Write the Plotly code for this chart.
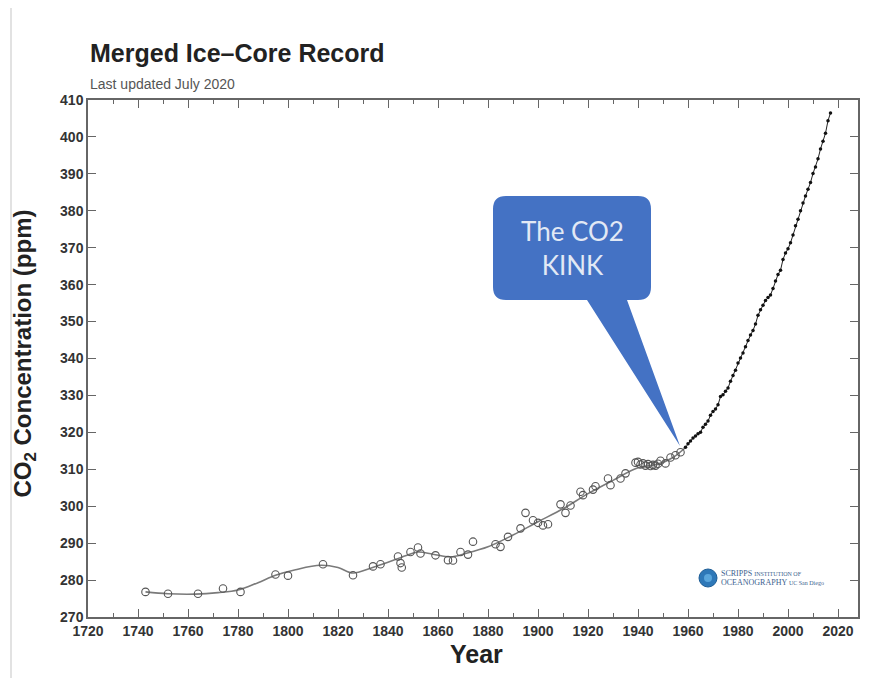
import plotly.graph_objects as go

# ---------------- data ----------------
ice_years = [1743, 1752, 1764, 1774, 1781, 1795, 1800, 1814, 1826, 1834, 1837,
             1844, 1845, 1845.5, 1849, 1852, 1853, 1859, 1864, 1866, 1869, 1872, 1874,
             1883, 1885, 1888, 1893, 1895, 1898, 1900, 1902, 1904, 1909, 1911, 1913,
             1917, 1918, 1922, 1923, 1928, 1929, 1933, 1935, 1939, 1940, 1941, 1942,
             1943, 1944, 1945, 1946, 1947, 1948, 1949, 1951, 1953, 1955, 1957]
ice_co2 = [276.8, 276.3, 276.3, 277.7, 276.8, 281.5, 281.2, 284.3, 281.3, 283.7, 284.3,
           286.4, 284.6, 283.4, 287.6, 288.8, 287.2, 286.7, 285.4, 285.3, 287.6, 286.9, 290.4,
           289.7, 289.0, 291.7, 294.0, 298.2, 296.2, 295.5, 294.8, 295.1, 300.5, 298.2, 300.2,
           303.9, 303.0, 304.5, 305.4, 307.5, 305.7, 307.5, 308.9, 311.8, 312.0, 311.3, 311.6,
           311.0, 311.4, 310.9, 311.2, 311.0, 311.5, 312.3, 311.6, 313.2, 313.8, 314.6]

spline_years = [1743, 1752, 1763, 1772, 1780, 1788, 1795, 1803, 1813, 1820, 1826,
                1833, 1840, 1847, 1852, 1858, 1865, 1871, 1880, 1890, 1900, 1910,
                1920, 1930, 1940, 1948, 1954, 1959]
spline_co2 = [276.8, 276.3, 276.2, 276.6, 277.3, 279.3, 281.3, 282.8, 284.0, 283.4, 281.9,
              283.2, 284.8, 286.6, 287.6, 287.0, 286.3, 287.2, 289.0, 292.2, 295.8, 299.3,
              303.4, 307.0, 310.4, 311.4, 313.2, 315.9]

ml_years = list(range(1959, 2018))
ml_co2 = [315.97, 316.91, 317.64, 318.45, 318.99, 319.62, 320.04, 321.37, 322.18, 323.05,
          324.62, 325.68, 326.32, 327.46, 329.68, 330.19, 331.12, 332.03, 333.84, 335.41,
          336.84, 338.76, 340.12, 341.48, 343.15, 344.85, 346.35, 347.61, 349.31, 351.69,
          353.20, 354.45, 355.70, 356.54, 357.21, 358.96, 360.97, 362.74, 363.88, 366.84,
          368.54, 369.71, 371.32, 373.45, 375.98, 377.70, 379.98, 382.09, 384.02, 385.83,
          387.64, 390.10, 391.85, 394.06, 396.74, 398.81, 401.01, 404.41, 406.50]

title_text = "Merged Ice\u2013Core Record"
subtitle_text = "Last updated July 2020"
callout_text = "The CO2<br>KINK"

# ---------------- figure ----------------
fig = go.Figure()

fig.add_trace(go.Scatter(
    x=spline_years, y=spline_co2, mode="lines",
    line=dict(color="#7a7a7a", width=1.6, shape="spline", smoothing=1.0),
    hoverinfo="skip", showlegend=False))

fig.add_trace(go.Scatter(
    x=ice_years, y=ice_co2, mode="markers",
    marker=dict(symbol="circle-open", size=7.5, color="#555555", line=dict(width=1.1)),
    showlegend=False))

fig.add_trace(go.Scatter(
    x=ml_years, y=ml_co2, mode="lines+markers",
    line=dict(color="#222222", width=1),
    marker=dict(symbol="circle", size=3.5, color="#111111"),
    showlegend=False))

X0, X1 = 1720, 2028
Y0, Y1 = 270, 410
OFF = 8                      # page body margin
L, T = 88, 100               # plot top-left on the page
PR, PB = 858, 617            # plot right / bottom on the page
FW, FH = 872, 670            # figure size (fits the 888x686 window with body margin)
pw, ph = PR - L, PB - T
mL, mT = L - OFF, T - OFF
mR, mB = FW - (PR - OFF), FH - (PB - OFF)


def px2x(px):
    return X0 + (px - L) / pw * (X1 - X0)


def py2y(py):
    return Y1 - (py - T) / ph * (Y1 - Y0)


def P(px, py):
    return f"{px2x(px):.3f},{py2y(py):.3f}"


# callout bubble (rounded box + tail)
bx0, bx1, by0, by1 = 493, 651, 196, 300
r = 13
tl0, tl1 = 587, 627
tip = (680, 446)
path = (f"M {P(bx0 + r, by0)} L {P(bx1 - r, by0)} Q {P(bx1, by0)} {P(bx1, by0 + r)} "
        f"L {P(bx1, by1 - r)} Q {P(bx1, by1)} {P(bx1 - r, by1)} "
        f"L {P(tl1, by1)} L {P(tip[0], tip[1])} L {P(tl0, by1)} "
        f"L {P(bx0 + r, by1)} Q {P(bx0, by1)} {P(bx0, by1 - r)} "
        f"L {P(bx0, by0 + r)} Q {P(bx0, by0)} {P(bx0 + r, by0)} Z")
fig.add_shape(type="path", path=path, xref="x", yref="y",
              fillcolor="#4472C4", line=dict(color="#4472C4", width=0), layer="above")

fig.add_annotation(x=px2x((bx0 + bx1) / 2), y=py2y((by0 + by1) / 2), xref="x", yref="y",
                   text=callout_text, showarrow=False,
                   font=dict(family="Lato", size=26, color="#e2e9f5"), align="center")

# Scripps logo
cx, cy, cr = 708, 578, 9
fig.add_shape(type="circle", xref="x", yref="y",
              x0=px2x(cx - cr), x1=px2x(cx + cr), y0=py2y(cy + cr), y1=py2y(cy - cr),
              fillcolor="#2e78b8", line=dict(color="#1d5d96", width=1))
fig.add_shape(type="circle", xref="x", yref="y",
              x0=px2x(cx - 4), x1=px2x(cx + 4), y0=py2y(cy + 4), y1=py2y(cy - 4),
              fillcolor="#5aa6dc", line=dict(width=0))
fig.add_annotation(x=px2x(719), y=py2y(573), xref="x", yref="y", xanchor="left",
                   text="SCRIPPS <span style='font-size:6px'>INSTITUTION OF</span>",
                   showarrow=False, font=dict(family="Liberation Serif", size=8, color="#3d5f8f"))
fig.add_annotation(x=px2x(719), y=py2y(582), xref="x", yref="y", xanchor="left",
                   text="OCEANOGRAPHY <span style='font-size:6px'>UC San Diego</span>",
                   showarrow=False, font=dict(family="Liberation Serif", size=8, color="#3d5f8f"))

# faint left photo border
fig.add_shape(type="line", xref="paper", yref="paper",
              x0=(11 - L) / pw, x1=(11 - L) / pw, y0=-(PB - T + 80) / ph + 1, y1=1 + (T - OFF) / ph,
              line=dict(color="#e2e2e2", width=2))

tickfont = dict(family="Liberation Sans", size=14, color="#333333", weight="bold")
axis_common = dict(
    showgrid=False, zeroline=False, showline=True, linecolor="#666666", linewidth=1.5,
    mirror="allticks", ticks="inside", ticklen=8, tickwidth=1.2, tickcolor="#666666",
    tickfont=tickfont)

fig.update_xaxes(range=[X0, X1], tick0=1720, dtick=20, **axis_common,
                 minor=dict(dtick=10, ticks="inside", ticklen=4, tickwidth=1.2,
                            tickcolor="#666666", showgrid=False))
fig.update_yaxes(range=[Y0, Y1], tick0=270, dtick=10, **axis_common)

fig.add_annotation(x=0, y=1, xref="paper", yref="paper", xanchor="left", yanchor="middle",
                   xshift=0, yshift=47, text=title_text, showarrow=False,
                   font=dict(family="Liberation Sans", size=25, color="#222222", weight="bold"))
fig.add_annotation(x=0, y=1, xref="paper", yref="paper", xanchor="left", yanchor="middle",
                   xshift=0, yshift=16, text=subtitle_text, showarrow=False,
                   font=dict(family="Liberation Sans", size=14, color="#555555"))
fig.add_annotation(x=0.5, y=0, xref="paper", yref="paper", xanchor="center", yanchor="middle",
                   xshift=3, yshift=-37, text="Year", showarrow=False,
                   font=dict(family="Liberation Sans", size=25, color="#222222", weight="bold"))
fig.add_annotation(x=0, y=0.5, xref="paper", yref="paper", xanchor="center", yanchor="middle",
                   xshift=-64, yshift=5, textangle=-90,
                   text="CO<sub>2</sub> Concentration (ppm)", showarrow=False,
                   font=dict(family="Liberation Sans", size=24, color="#222222", weight="bold"))

fig.update_layout(width=FW, height=FH, margin=dict(l=mL, r=mR, t=mT, b=mB, autoexpand=False),
                  plot_bgcolor="white", paper_bgcolor="white", showlegend=False)

fig.write_html("out.html")
